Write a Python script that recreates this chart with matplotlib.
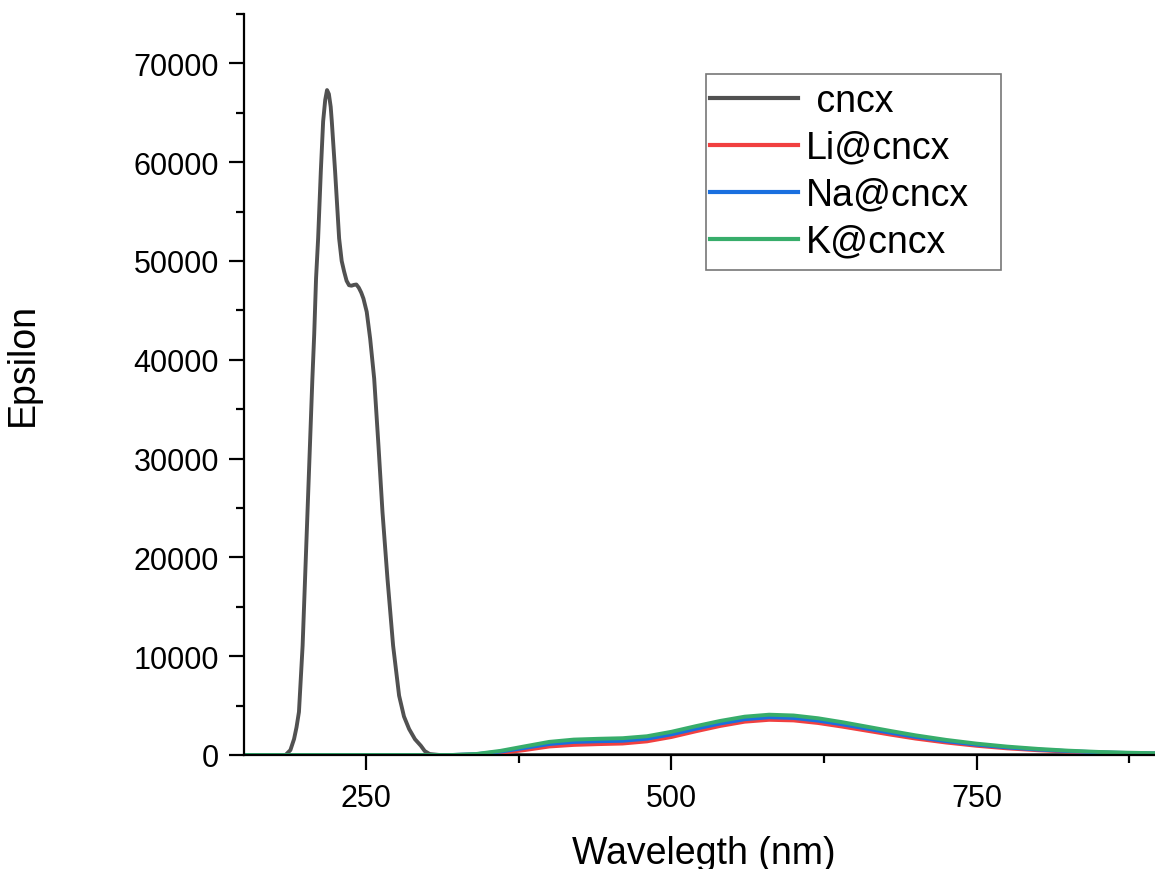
import matplotlib
matplotlib.use("Agg")
import matplotlib.pyplot as plt
from matplotlib.patches import Rectangle
from matplotlib.ticker import MultipleLocator

plt.rcParams['font.family'] = ['Liberation Sans', 'DejaVu Sans']

# 吸收光谱数据 (nm, epsilon)
wl_cncx = [150, 180, 184, 188, 191, 193, 195, 198, 200, 202, 204, 206, 207.5, 209,
           210.7, 212.9, 214.8, 216.5, 218, 219.5, 221, 221.9, 224.6, 227.9, 230,
           232, 234, 236, 238, 240, 242, 244, 246, 247.8, 250.5, 253.3, 256.6,
           260.1, 263.4, 267.5, 272.1, 277, 281, 285.2, 290, 294.8, 298, 302, 310, 900]
eps_cncx = [0, 0, 0, 500, 1620, 2800, 4360, 11070, 17830, 24600, 31340, 38100,
            42600, 48230, 52280, 59070, 64130, 66300, 67300, 66900, 65600, 64130,
            59070, 52280, 50000, 48930, 48000, 47550, 47500, 47580, 47620, 47300,
            46800, 46200, 44850, 42150, 38100, 31340, 24590, 17830, 11070, 6010,
            3900, 2630, 1600, 940, 400, 100, 0, 0]

wl_m = [150, 320, 340, 360, 380, 400, 420, 440, 460, 480, 500, 520, 540, 560, 580,
        600, 620, 640, 660, 680, 700, 725, 750, 775, 800, 825, 850, 875, 900]
eps_k = [0, 0, 100, 420, 880, 1330, 1560, 1640, 1700, 1900, 2350, 2920, 3450, 3880,
         4080, 4000, 3720, 3320, 2870, 2420, 1990, 1530, 1150, 850, 620, 440, 310, 230, 170]
eps_na = [0, 0, 80, 340, 720, 1110, 1320, 1390, 1440, 1650, 2090, 2660, 3190, 3620,
          3820, 3750, 3480, 3100, 2670, 2240, 1830, 1400, 1040, 760, 550, 390, 270, 200, 150]
eps_li = [0, 0, 40, 200, 500, 860, 1020, 1100, 1160, 1380, 1820, 2400, 2940, 3370,
          3560, 3500, 3240, 2870, 2460, 2050, 1660, 1260, 930, 670, 480, 340, 240, 180, 140]

labels = [" cncx", "Li@cncx", "Na@cncx", "K@cncx"]
colors = ["#515151", "#F14040", "#1A6FDF", "#37AD6B"]

fig = plt.figure(figsize=(11.55, 8.7), dpi=100)
ax = fig.add_axes([244 / 1155, 114 / 870, (1155 - 244) / 1155, (756 - 15) / 870])

series = [(wl_cncx, eps_cncx), (wl_m, eps_li), (wl_m, eps_na), (wl_m, eps_k)]
for (x, y), lab, c in zip(series, labels, colors):
    ax.plot(x, y, color=c, lw=2.8, label=lab, solid_joinstyle='round')

ax.set_xlim(150, 896)
ax.set_ylim(0, 75000)

ax.xaxis.set_major_locator(MultipleLocator(250))
ax.xaxis.set_minor_locator(MultipleLocator(125))
ax.yaxis.set_major_locator(MultipleLocator(10000))
ax.yaxis.set_minor_locator(MultipleLocator(5000))

for s in ["top", "right"]:
    ax.spines[s].set_visible(False)
for s in ["left", "bottom"]:
    ax.spines[s].set_linewidth(1.6)

ax.tick_params(which='major', direction='out', length=11, width=1.6,
               labelsize=22, pad=7)
ax.tick_params(axis='x', which='major', pad=9)
ax.tick_params(which='minor', direction='out', length=6, width=1.6)

fig.text(23 / 1155, 1 - 365 / 870, "Epsilon", rotation=90, fontsize=27,
         ha='center', va='center')
fig.text(704 / 1155, 1 - 864 / 870, "Wavelegth (nm)", fontsize=27,
         ha='center', va='baseline')

# 图例 (无边框), 边框单独画
leg = ax.legend(loc='upper left', bbox_to_anchor=(710 / 1155, 1 - 84 / 870),
                bbox_transform=fig.transFigure, fontsize=27, frameon=False,
                borderaxespad=0, borderpad=0, labelspacing=0.29,
                handlelength=2.35, handletextpad=0.22)
for h in leg.get_lines():
    h.set_linewidth(3.0)
fig.patches.append(Rectangle((706 / 1155, 1 - 271 / 870), 295 / 1155, 196 / 870,
                             transform=fig.transFigure, fill=False,
                             edgecolor='#777777', lw=1.2))

fig.savefig("out.png", dpi=100)
